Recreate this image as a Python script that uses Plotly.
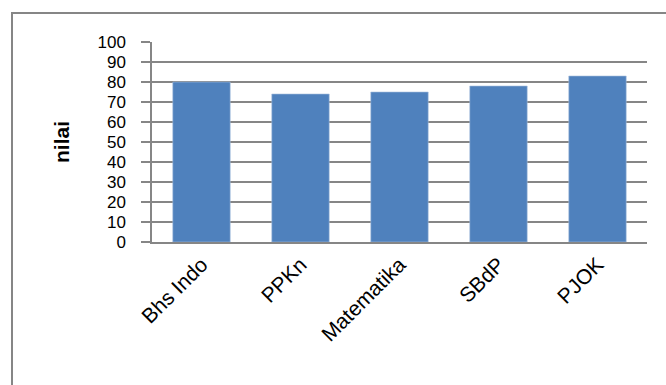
import plotly.graph_objects as go

categories = ["Bhs Indo", "PPKn", "Matematika", "SBdP", "PJOK"]
values = [80, 74, 75, 78, 83]
y_ticks = [0, 10, 20, 30, 40, 50, 60, 70, 80, 90, 100]

W, H = 666, 385
ml, mr, mt, mb = 152, 19, 42, 143
pw = W - ml - mr
ph = H - mt - mb

fig = go.Figure()
fig.add_trace(go.Bar(x=categories, y=values, marker=dict(color="#4F81BD", line=dict(color="#A7BFDE", width=0.6)), width=0.58))

grey = "#868686"
fig.update_layout(
    width=W, height=H,
    margin=dict(l=ml, r=mr, t=mt, b=mb, pad=0),
    paper_bgcolor="white", plot_bgcolor="white",
    font=dict(family="Liberation Sans", size=20, color="black"),
    showlegend=False,
    xaxis=dict(showline=True, linecolor=grey, linewidth=2, ticks="", tickangle=-45,
               showgrid=False, tickfont=dict(size=21)),
    yaxis=dict(range=[0, 100], tickvals=y_ticks, showgrid=True, gridcolor=grey, gridwidth=1.5,
               ticks="outside", ticklen=9, tickcolor=grey, tickwidth=1.5,
               showline=True, linecolor=grey, linewidth=1.5, zeroline=False,
               ticklabelstandoff=12, tickfont=dict(size=17),
               title=dict(text="<b>nilai</b>", font=dict(size=21), standoff=22)),
    shapes=[dict(type="rect", xref="paper", yref="paper",
                 x0=(12 - ml) / pw, x1=(W + 20 - ml) / pw,
                 y0=-(H + 20 - mt - ph) / ph, y1=1 + (mt - 13) / ph,
                 line=dict(color=grey, width=2), fillcolor="rgba(0,0,0,0)", layer="below")],
)
fig.write_html("out.html")
